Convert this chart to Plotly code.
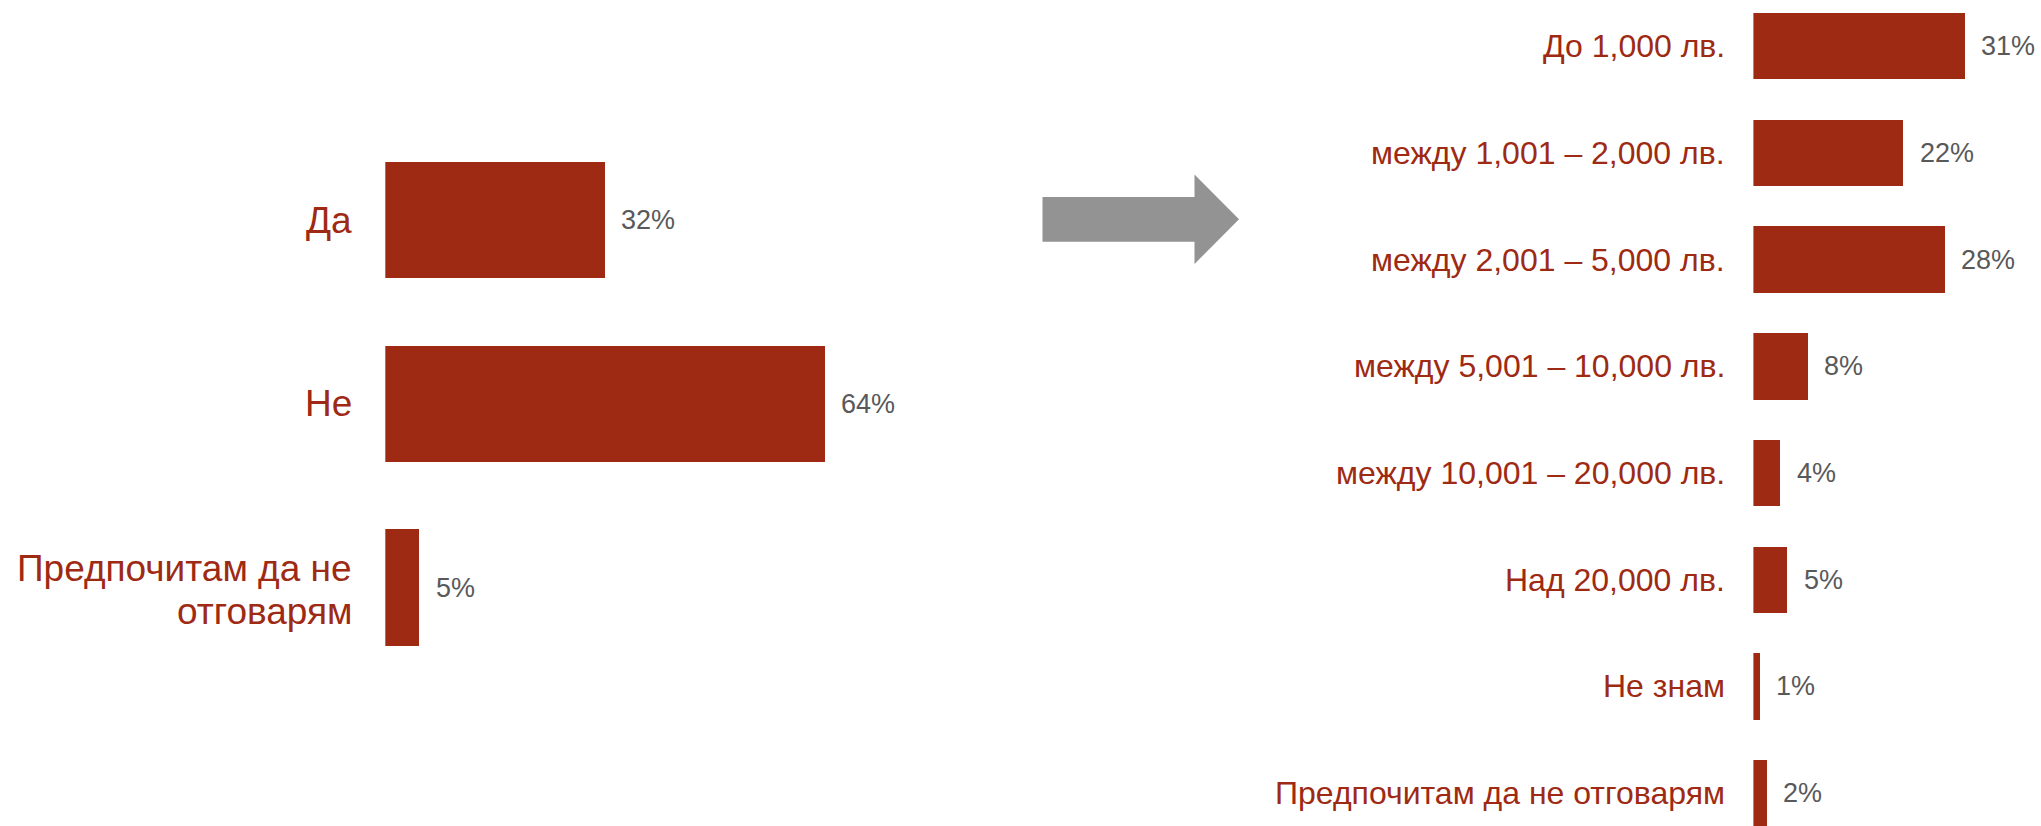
import plotly.graph_objects as go

W, H = 2041, 826

left_cats = ["Да", "Не", "Предпочитам да не<br>отговарям"]
left_vals = [32, 64, 5]
left_text = ["32%", "64%", "5%"]

right_cats = ["До 1,000 лв.", "между 1,001 – 2,000 лв.", "между 2,001 – 5,000 лв.",
              "между 5,001 – 10,000 лв.", "между 10,001 – 20,000 лв.", "Над 20,000 лв.",
              "Не знам", "Предпочитам да не отговарям"]
right_vals = [31, 22, 28, 8, 4, 5, 1, 2]
right_text = ["31%", "22%", "28%", "8%", "4%", "5%", "1%", "2%"]

BAR = "#9E2A14"
LBL = "#9E2A14"
VAL = "#595959"
FONT = "Liberation Sans, Arial, sans-serif"

fig = go.Figure()
fig.add_trace(go.Bar(x=left_vals, y=left_cats, orientation="h", xaxis="x", yaxis="y",
                     marker=dict(color=BAR, line=dict(width=0)), width=0.634,
                     hoverinfo="skip", showlegend=False))
fig.add_trace(go.Bar(x=right_vals, y=right_cats, orientation="h", xaxis="x2", yaxis="y2",
                     marker=dict(color=BAR, line=dict(width=0)), width=0.622,
                     hoverinfo="skip", showlegend=False))

ann = []


def cat_label(c, xref, yref, size, xshift, gap):
    lines = c.split("<br>")
    n = len(lines)
    for k, line in enumerate(lines):
        ann.append(dict(x=0, y=c, xref=xref, yref=yref, text=line, showarrow=False,
                        xanchor="right", yanchor="middle", align="right", xshift=xshift,
                        yshift=((n - 1) / 2 - k) * gap - (2 if n > 1 else 0),
                        font=dict(family=FONT, size=size, color=LBL)))


for c, v, t in zip(left_cats, left_vals, left_text):
    cat_label(c, "x", "y", 37, -31, 43)
    ann.append(dict(x=v, y=c, xref="x", yref="y", text=t, showarrow=False,
                    xanchor="left", yanchor="middle", xshift=14,
                    font=dict(family=FONT, size=27, color=VAL)))
for c, v, t in zip(right_cats, right_vals, right_text):
    cat_label(c, "x2", "y2", 32, -26, 40)
    ann.append(dict(x=v, y=c, xref="x2", yref="y2", text=t, showarrow=False,
                    xanchor="left", yanchor="middle", xshift=14,
                    font=dict(family=FONT, size=27, color=VAL)))

# arrow shape (pixel geometry converted to paper coords)
def px(x): return x / W
def py(y): return 1 - y / H
pts = [(1042.5, 197), (1194.5, 197), (1194.5, 174.5), (1239, 219.3), (1194.5, 264),
       (1194.5, 241.7), (1042.5, 241.7)]
path = "M " + " L ".join(f"{px(a):.5f},{py(b):.5f}" for a, b in pts) + " Z"

lx0, lpp = 385.3, 6.875
rx0, rpp = 1753.4, 6.84
ldom = [lx0 / W, 0.45]
rdom = [rx0 / W, 1.0]

fig.update_layout(
    width=W, height=H, margin=dict(l=0, r=0, t=0, b=0),
    paper_bgcolor="white", plot_bgcolor="white",
    xaxis=dict(domain=ldom, range=[0, (ldom[1] - ldom[0]) * W / lpp], visible=False, fixedrange=True),
    yaxis=dict(domain=[0, 1], range=[3.297, -1.197], visible=False, type="category",
               categoryorder="array", categoryarray=left_cats, fixedrange=True),
    xaxis2=dict(domain=rdom, range=[0, (rdom[1] - rdom[0]) * W / rpp], visible=False,
                anchor="y2", fixedrange=True),
    yaxis2=dict(domain=[0, 1], range=[7.308, -0.433], visible=False, type="category",
                categoryorder="array", categoryarray=right_cats, anchor="x2", fixedrange=True),
    annotations=ann,
    shapes=[dict(type="path", path=path, xref="paper", yref="paper",
                 fillcolor="#939393", line=dict(width=0), layer="above")],
    bargap=0,
)

fig.write_html("out.html", config={"displayModeBar": False},
               post_script="document.body.style.margin='0';document.body.style.overflow='hidden';")
